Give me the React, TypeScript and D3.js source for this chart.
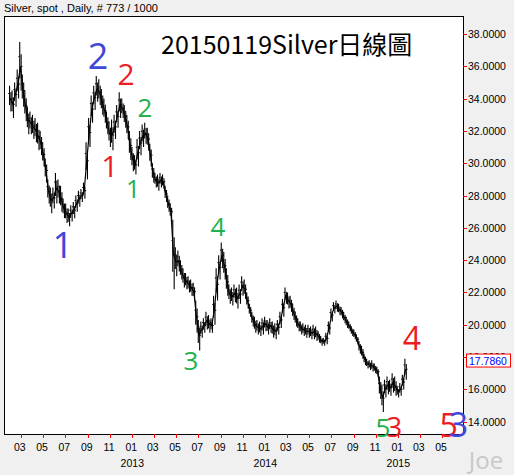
import React from "react";
import * as d3 from "d3";

// Weekly bars (week starting dates from 2012-01-30)
const weekStart = "2012-01-30";
const weeklyHigh = [
  34.8, 34.5, 35.0, 35.8, 37.5, 35.5, 34.5, 33.5, 33.2, 33.0,
  32.8, 32.5, 32.0, 31.3, 30.3, 29.0, 28.5, 28.5, 29.4, 29.0,
  28.6, 27.8, 27.5, 27.2, 27.4, 27.6, 28.0, 28.3, 28.4, 28.8,
  31.3, 32.8, 34.2, 34.8, 35.4, 35.2, 34.6, 34.0, 33.2, 32.6,
  32.7, 33.0, 33.6, 34.4, 34.0, 33.6, 33.0, 32.0, 31.0, 30.5,
  31.5, 32.0, 32.4, 32.5, 32.2, 31.2, 30.0, 29.4, 29.3, 29.4,
  29.3, 28.6, 28.0, 27.5, 26.5, 24.8, 24.6, 24.0, 23.5, 23.2,
  23.0, 22.8, 22.6, 21.5, 20.3, 20.2, 20.4, 20.8, 20.6, 20.4,
  21.8, 23.5, 24.3, 25.1, 24.5, 23.5, 22.5, 22.3, 22.5, 22.3,
  22.5, 23.0, 22.8, 22.0, 21.3, 20.8, 20.5, 20.3, 20.2, 20.4,
  20.5, 20.3, 20.4, 20.2, 20.1, 20.3, 20.8, 21.6, 22.3, 22.0,
  21.8, 21.3, 20.8, 20.4, 20.2, 20.1, 20.0, 20.0, 19.9, 20.0,
  19.9, 19.6, 19.3, 19.2, 19.5, 20.2, 21.0, 21.4, 21.5, 21.3,
  21.1, 20.8, 20.5, 20.2, 19.9, 19.7, 19.4, 19.0, 18.7, 18.2,
  17.9, 17.8, 17.8, 17.6, 17.4, 16.8, 16.3, 16.6, 16.8, 16.6,
  17.0, 16.8, 16.2, 16.4, 16.9, 17.9,
];
const weeklyLow = [
  33.2, 32.8, 33.5, 34.0, 34.5, 33.5, 32.6, 31.8, 31.8, 31.5,
  31.3, 30.8, 30.5, 29.8, 28.8, 27.5, 26.9, 27.2, 27.5, 27.5,
  27.0, 26.6, 26.3, 26.1, 26.4, 26.6, 27.0, 27.3, 27.6, 27.8,
  29.0, 31.0, 32.5, 33.3, 33.8, 33.6, 33.0, 32.5, 31.8, 31.0,
  30.8, 31.5, 32.2, 32.8, 32.8, 32.2, 31.5, 30.2, 29.5, 29.3,
  29.8, 30.5, 31.0, 31.2, 30.8, 29.8, 28.8, 28.5, 28.3, 28.5,
  28.4, 27.6, 27.0, 26.5, 22.2, 23.0, 23.3, 22.8, 22.3, 22.2,
  22.0, 21.8, 21.5, 19.5, 18.4, 19.2, 19.5, 19.7, 19.5, 19.5,
  20.0, 21.5, 22.8, 23.5, 22.8, 21.8, 21.3, 21.2, 21.4, 21.0,
  21.3, 21.8, 21.6, 21.0, 20.5, 19.9, 19.5, 19.4, 19.3, 19.4,
  19.6, 19.4, 19.5, 19.2, 19.1, 19.4, 19.8, 20.5, 21.3, 21.0,
  20.8, 20.3, 19.9, 19.6, 19.4, 19.3, 19.2, 19.2, 19.1, 19.1,
  19.0, 18.9, 18.7, 18.7, 18.8, 19.4, 20.2, 20.7, 20.8, 20.6,
  20.4, 20.1, 19.8, 19.6, 19.3, 19.1, 18.8, 18.2, 17.9, 17.5,
  17.3, 17.2, 17.1, 17.0, 16.8, 15.4, 14.6, 15.5, 15.7, 15.6,
  15.8, 15.6, 15.5, 15.6, 16.0, 16.6,
];
const lastPrice = 17.786;

const priceTicks = [14, 16, 18, 20, 22, 24, 26, 28, 30, 32, 34, 36, 38];
const yearLabels = ["2013", "2014", "2015"];

// Wave-count annotations: label, colour key, anchor date, anchor price
const waveLabels = ["2", "2", "2", "1", "1", "1", "4", "3", "4", "5", "3", "5", "3"];
const waveColors = ["blue", "red", "green", "red", "green", "blue", "green", "green", "red", "green", "red", "red", "blue"];
const waveDates = [
  "2012-09-29", "2012-12-15", "2013-02-05", "2012-10-31", "2013-01-03", "2012-06-24",
  "2013-08-24", "2013-06-11", "2015-02-07", "2014-11-20", "2014-12-21", "2015-05-19", "2015-06-15",
];
const wavePrices = [35.83, 34.84, 32.86, 29.15, 27.85, 24.13, 25.5, 17.2, 18.44, 13.05, 13.05, 13.05, 13.05];
const waveSizes = [36, 30, 26, 30, 25, 36, 26, 26, 32, 26, 28, 32, 34];

const COLORS: Record<string, string> = { blue: "#4048d8", red: "#ed1c24", green: "#22b14c" };

const W = 514, H = 475;
const PL = 4, PR = 463, PT = 16, PB = 434;

export default function App() {
  const parse = d3.timeParse("%Y-%m-%d");
  const x = d3.scaleTime()
    .domain([new Date(2013, 0, 1), new Date(2015, 0, 1)])
    .range([132.3, 398.3]);
  const y = d3.scaleLinear().domain([14, 38]).range([421.7, 34]);

  const start = parse(weekStart) as Date;
  const weeks = weeklyHigh.map((h, i) => ({
    date: d3.timeDay.offset(start, i * 7 + 2),
    hi: h,
    lo: weeklyLow[i],
  }));

  const monthTicks = d3.timeMonth
    .every(2)!
    .range(x.invert(PL), x.invert(PR));
  const fmtMonth = d3.timeFormat("%m");

  const midLine = d3.line<{ date: Date; hi: number; lo: number }>()
    .x((d) => x(d.date))
    .y((d) => y((d.hi + d.lo) / 2));

  const font = "'Liberation Sans', Arial, sans-serif";

  return (
    <svg
      width={W}
      height={H}
      style={{ position: "absolute", left: 0, top: 0, background: "#f0f0f0" }}
    >
      <rect x={0} y={0} width={W} height={H} fill="#f0f0f0" />
      <text x={4} y={12} fontFamily={font} fontSize={11} fill="#000">
        Silver, spot , Daily, # 773 / 1000
      </text>
      <rect x={PL + 0.5} y={PT + 0.5} width={PR - PL} height={PB - PT} fill="#fff" stroke="#000" strokeWidth={1} />

      {/* price bars */}
      <g>
        <path d={midLine(weeks) || ""} fill="none" stroke="#000" strokeWidth={1.2} />
        {weeks.map((d, i) => {
          const cx = x(d.date);
          const mid = (d.hi + d.lo) / 2;
          return (
            <g key={i}>
              <line x1={cx - 0.7} x2={cx - 0.7} y1={y(d.hi)} y2={y(d.lo + (d.hi - d.lo) * 0.25)} stroke="#000" strokeWidth={1.1} />
              <line x1={cx + 0.7} x2={cx + 0.7} y1={y(d.hi - (d.hi - d.lo) * 0.25)} y2={y(d.lo)} stroke="#000" strokeWidth={1.1} />
              <line x1={cx - 2} x2={cx - 0.7} y1={y(mid + (d.hi - d.lo) * 0.2)} y2={y(mid + (d.hi - d.lo) * 0.2)} stroke="#000" strokeWidth={1} />
              <line x1={cx + 0.7} x2={cx + 2} y1={y(mid)} y2={y(mid)} stroke="#000" strokeWidth={1} />
            </g>
          );
        })}
      </g>

      {/* right axis */}
      <g>
        {priceTicks.map((t) => (
          <g key={t}>
            <line x1={PR} x2={PR + 4} y1={Math.round(y(t)) + 0.5} y2={Math.round(y(t)) + 0.5} stroke="#ff0000" />
            <text x={PR + 5} y={y(t) + 4} fontFamily={font} fontSize={10.5} fill="#000">
              {t.toFixed(4)}
            </text>
          </g>
        ))}
        <rect x={PR + 3.5} y={y(lastPrice) - 6.5} width={44} height={13} fill="#fff" stroke="#ff0000" />
        <text x={PR + 6} y={y(lastPrice) + 4} fontFamily={font} fontSize={10.5} fill="#0000ff">
          {lastPrice.toFixed(4)}
        </text>
      </g>

      {/* bottom axis */}
      <g>
        {monthTicks.map((m, i) => (
          <g key={i}>
            <line x1={Math.round(x(m)) + 0.5} x2={Math.round(x(m)) + 0.5} y1={PB} y2={PB + 4} stroke="#ff0000" />
            <text x={x(m) - 1} y={451} textAnchor="middle" fontFamily={font} fontSize={10.5} fill="#000">
              {fmtMonth(m)}
            </text>
          </g>
        ))}
        {yearLabels.map((yr) => (
          <text
            key={yr}
            x={x(new Date(+yr, 0, 1))}
            y={467}
            textAnchor="middle"
            fontFamily={font}
            fontSize={10.5}
            fill="#000"
          >
            {yr}
          </text>
        ))}
      </g>

      {/* title */}
      <text x={161} y={54} fontFamily="'Noto Sans CJK TC', 'Noto Sans', sans-serif" fontSize={25} fill="#000">
        20150119Silver日線圖
      </text>

      {/* wave labels */}
      {waveLabels.map((l, i) => (
        <text
          key={i}
          x={x(parse(waveDates[i]) as Date)}
          y={y(wavePrices[i])}
          textAnchor="middle"
          fontFamily="'Open Sans', 'Noto Sans', sans-serif"
          fontSize={waveSizes[i]}
          fill={COLORS[waveColors[i]]}
        >
          {l}
        </text>
      ))}

      <text x={486} y={469} textAnchor="middle" fontFamily="'Open Sans', sans-serif" fontSize={24} fill="#c8c8c8">
        Joe
      </text>
    </svg>
  );
}
